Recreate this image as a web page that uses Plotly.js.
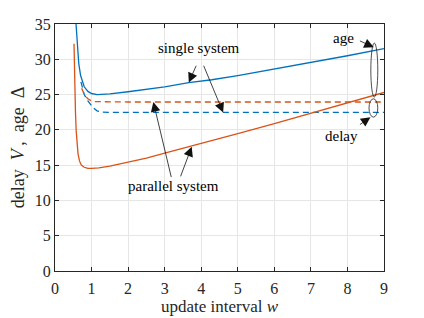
<!DOCTYPE html>
<html><head><meta charset="utf-8">
<script src="https://cdn.plot.ly/plotly-3.0.1.min.js"></script>
<style>html,body{margin:0;padding:0;background:#fff;}#chart{width:424px;height:318px;}</style>
</head><body><div id="chart"></div>
<script>
// single system, age (blue solid)
const wSingleAge = [0.575,0.6,0.62,0.65,0.7,0.75,0.8,0.9,1.0,1.15,1.5,2,2.32,3,3.66,4.29,5,6,7,8,9];
const singleAge  = [35,32.6,31,29.4,27.7,26.7,26.1,25.45,25.15,25.0,25.1,25.4,25.6,26.1,26.7,27.1,27.7,28.6,29.6,30.5,31.5];
// single system, delay (blue dashed)
const wSingleDelay = [0.71,0.8,0.9,0.96,1.05,1.15,1.3,1.5,2,3,4,5,6,7,8,9];
const singleDelay  = [26.8,25.0,24.1,23.7,23.1,22.7,22.5,22.47,22.47,22.47,22.47,22.47,22.47,22.47,22.47,22.47];
// parallel system, age (orange solid)
const wParAge = [0.52,0.53,0.54,0.55,0.56,0.58,0.6,0.63,0.67,0.72,0.8,0.9,1.0,1.2,1.5,2,2.5,3,4,5,6,7,8,9];
const parAge  = [32.2,29,26.5,24.3,22.5,19.8,18.0,16.6,15.6,15.0,14.7,14.55,14.55,14.6,14.85,15.4,16.0,16.7,18.05,19.45,20.9,22.4,23.9,25.3];
// parallel system, delay (orange dashed)
const wParDelay = [0.73,0.8,0.9,1.0,1.1,1.5,2,3,4,5,6,7,8,9];
const parDelay  = [25.9,25.0,24.4,24.1,24.0,23.95,23.95,23.95,23.95,23.95,23.95,23.95,23.95,23.95];

const xTicks = [0,1,2,3,4,5,6,7,8,9];
const yTicks = [0,5,10,15,20,25,30,35];

const blue = '#0072BD', orange = '#D95319';
const serif = 'Liberation Serif, Times New Roman, serif';

const traces = [
  {x:wSingleAge, y:singleAge, mode:'lines', line:{color:blue, width:1.3}},
  {x:wSingleDelay, y:singleDelay, mode:'lines', line:{color:blue, width:1.3, dash:'6px,4px'}},
  {x:wParAge, y:parAge, mode:'lines', line:{color:orange, width:1.3}},
  {x:wParDelay, y:parDelay, mode:'lines', line:{color:orange, width:1.3, dash:'6px,4px'}}
];

function arrow(tx, ty, hx, hy){
  return {x:hx, y:hy, ax:tx, ay:ty, xref:'x', yref:'y', axref:'x', ayref:'y',
    text:'', showarrow:true, arrowhead:2, arrowsize:2.4, arrowwidth:0.8, arrowcolor:'#111'};
}
function label(t, x, y){
  return {x:x, y:y, xref:'x', yref:'y', text:t, showarrow:false,
    font:{family:serif, size:15, color:'#000'}};
}

const annotations = [
  label('single system', 3.95, 31.6),
  arrow(3.88, 29.3, 3.66, 26.7),
  arrow(4.05, 29.3, 4.6, 22.45),
  label('parallel system', 3.24, 12.0),
  arrow(3.19, 13.1, 2.69, 23.95),
  arrow(3.42, 13.2, 3.74, 17.6),
  label('age', 7.88, 33.0),
  arrow(8.3, 32.7, 8.72, 31.7),
  label('delay', 7.84, 19.1),
  arrow(8.3, 20.6, 8.63, 21.8)
];

const shapes = [
  {type:'circle', xref:'x', yref:'y', x0:8.64, x1:8.83, y0:24.65, y1:32.3, line:{color:'#222', width:0.8}},
  {type:'circle', xref:'x', yref:'y', x0:8.59, x1:8.83, y0:21.8, y1:24.4, line:{color:'#222', width:0.8}}
];

const axisCommon = {
  showline:true, linecolor:'#262626', linewidth:1, mirror:'ticks',
  ticks:'inside', ticklen:4, tickcolor:'#262626',
  showgrid:true, gridcolor:'#e6e6e6', gridwidth:1, zeroline:false,
  tickfont:{family:serif, size:16, color:'#262626'}
};

const layout = {
  width:424, height:318,
  margin:{l:55, r:40, t:24, b:47},
  paper_bgcolor:'#fff', plot_bgcolor:'#fff',
  showlegend:false,
  xaxis:Object.assign({}, axisCommon, {range:[0,9], tickvals:xTicks, ticktext:xTicks.map(String),
    ticklabelstandoff:3,
    title:{text:'update interval <i>w</i>', font:{family:serif, size:17, color:'#262626'}, standoff:3}}),
  yaxis:Object.assign({}, axisCommon, {range:[0,35], tickvals:yTicks, ticktext:yTicks.map(String),
    title:{text:'delay\u2002<i>V</i>\u2009,\u2002age\u2002Δ', font:{family:serif, size:18, color:'#262626'}, standoff:5}}),
  annotations:annotations,
  shapes:shapes
};

Plotly.newPlot('chart', traces, layout, {staticPlot:true, displayModeBar:false});
</script>
</body></html>
